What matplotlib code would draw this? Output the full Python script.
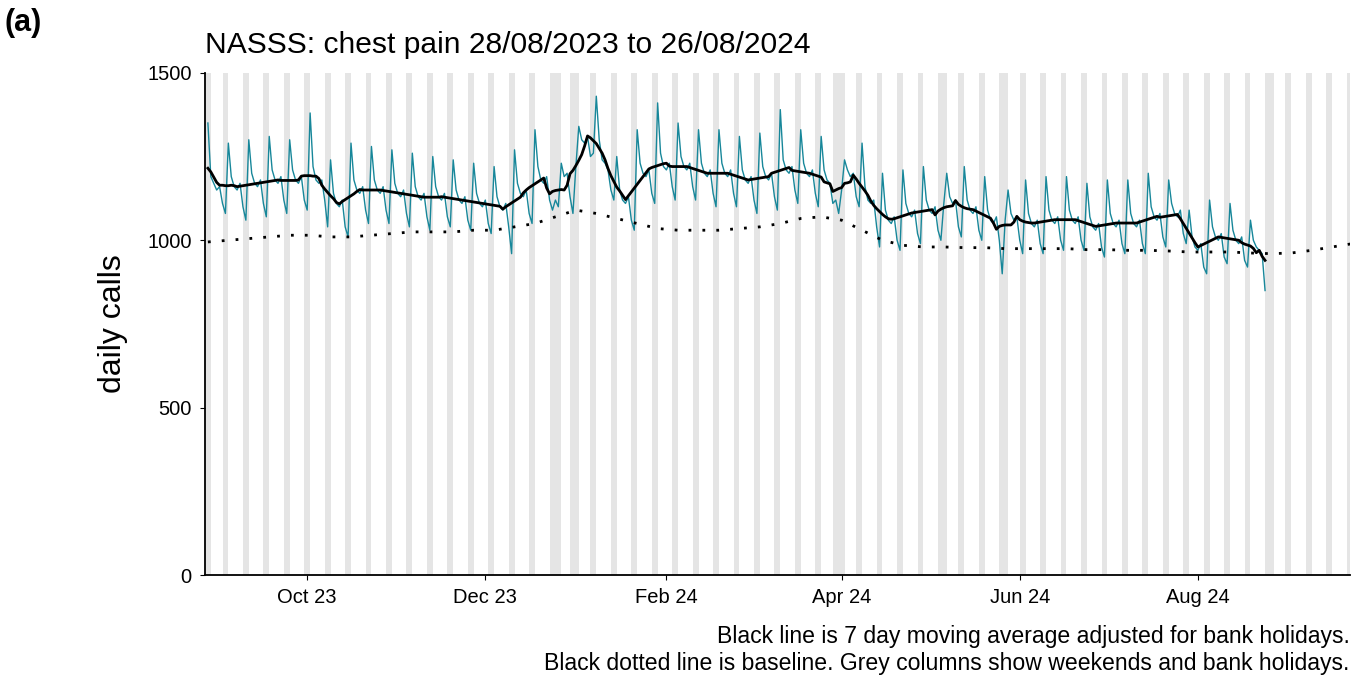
import numpy as np
import pandas as pd
import matplotlib.pyplot as plt
import matplotlib.dates as mdates

plt.rcParams['font.family'] = ['Liberation Sans', 'DejaVu Sans']

# daily calls, one row per week starting Monday 28/08/2023
daily_calls = [
    1350, 1190, 1170, 1150, 1160, 1110, 1080,
    1290, 1190, 1160, 1150, 1170, 1100, 1060,
    1300, 1200, 1170, 1160, 1180, 1110, 1070,
    1310, 1210, 1180, 1170, 1190, 1120, 1080,
    1300, 1210, 1180, 1170, 1190, 1120, 1090,
    1380, 1220, 1180, 1170, 1180, 1120, 1040,
    1240, 1140, 1110, 1100, 1120, 1040, 1010,
    1290, 1180, 1150, 1140, 1160, 1090, 1050,
    1280, 1180, 1150, 1140, 1160, 1090, 1050,
    1270, 1170, 1140, 1130, 1150, 1080, 1040,
    1260, 1160, 1130, 1120, 1140, 1070, 1030,
    1250, 1160, 1130, 1120, 1140, 1070, 1040,
    1240, 1150, 1120, 1110, 1130, 1060, 1030,
    1230, 1140, 1110, 1100, 1120, 1050, 1020,
    1220, 1130, 1100, 1090, 1110, 1040, 960,
    1270, 1170, 1140, 1130, 1150, 1080, 1050,
    1330, 1220, 1180, 1170, 1190, 1120, 1090,
    1120, 1100, 1230, 1190, 1200, 1130, 1080,
    1220, 1340, 1300, 1290, 1310, 1250, 1260,
    1430, 1300, 1240, 1230, 1210, 1150, 1120,
    1250, 1150, 1120, 1110, 1130, 1060, 1030,
    1330, 1230, 1200, 1190, 1210, 1140, 1110,
    1410, 1260, 1220, 1210, 1230, 1160, 1120,
    1350, 1250, 1220, 1210, 1230, 1160, 1120,
    1330, 1230, 1200, 1190, 1210, 1140, 1100,
    1330, 1230, 1200, 1190, 1210, 1140, 1100,
    1310, 1210, 1180, 1170, 1190, 1120, 1080,
    1320, 1220, 1190, 1180, 1200, 1130, 1090,
    1390, 1240, 1210, 1200, 1220, 1150, 1110,
    1330, 1230, 1200, 1190, 1210, 1140, 1100,
    1310, 1210, 1180, 1170, 1110, 1120, 1080,
    1150, 1240, 1210, 1190, 1200, 1130, 1100,
    1290, 1160, 1120, 1110, 1120, 1040, 980,
    1200, 1090, 1060, 1050, 1070, 1000, 970,
    1210, 1110, 1080, 1070, 1090, 1020, 990,
    1220, 1120, 1090, 1080, 1100, 1030, 1000,
    1110, 1200, 1130, 1110, 1120, 1040, 1010,
    1220, 1120, 1090, 1080, 1100, 1030, 1000,
    1190, 1090, 1060, 1050, 1070, 1000, 900,
    1060, 1150, 1080, 1060, 1070, 1000, 960,
    1180, 1080, 1050, 1040, 1060, 990, 960,
    1190, 1090, 1060, 1050, 1070, 1000, 970,
    1190, 1090, 1060, 1050, 1070, 1000, 970,
    1170, 1070, 1040, 1030, 1050, 980, 950,
    1180, 1080, 1050, 1040, 1060, 990, 960,
    1180, 1080, 1050, 1040, 1060, 990, 960,
    1200, 1100, 1070, 1060, 1080, 1010, 980,
    1180, 1110, 1080, 1070, 1090, 1020, 990,
    1090, 1010, 980, 970, 990, 920, 900,
    1120, 1040, 1010, 1000, 1020, 950, 930,
    1110, 1030, 1000, 990, 1010, 940, 920,
    1060, 1000, 980, 970, 960, 850,
]

# weekly baseline from 28/08/2023
baseline = [995, 1000, 1005, 1010, 1015, 1015, 1010, 1010, 1015, 1020, 1025, 1025,
            1025, 1030, 1030, 1040, 1050, 1070, 1090, 1080, 1065, 1050, 1035, 1030,
            1030, 1030, 1035, 1040, 1050, 1065, 1070, 1060, 1030, 1000, 985, 980,
            980, 978, 978, 975, 975, 975, 975, 972, 972, 970, 970, 968, 965, 965,
            965, 962, 960, 962, 970, 980, 990]

bank_holidays = ['2023-08-28', '2023-12-25', '2023-12-26', '2024-01-01', '2024-03-29',
                 '2024-04-01', '2024-05-06', '2024-05-27', '2024-08-26']

start = pd.Timestamp('2023-08-28')
days = pd.date_range(start, periods=len(daily_calls), freq='D')
calls = pd.Series(daily_calls, index=days)
ma = calls.rolling(7, center=True, min_periods=4).mean()
base_dates = pd.date_range(start, periods=len(baseline), freq='7D')

fig = plt.figure(figsize=(13.62, 6.8), dpi=100)
ax = fig.add_axes([0.1505, 0.154, 0.8405, 0.739])

x0, x1 = pd.Timestamp('2023-08-27'), pd.Timestamp('2024-09-22')
bh = pd.to_datetime(bank_holidays)
for d in pd.date_range(x0, x1, freq='D'):
    if d.weekday() >= 5 or d in bh:
        ax.axvspan(d, d + pd.Timedelta(days=1), color='#e5e5e5', lw=0, zorder=0)

ax.plot(days, calls, color='#17879a', lw=1.0, zorder=2)
ax.plot(days, ma, color='black', lw=2.0, zorder=3)
ax.plot(base_dates, baseline, color='black', lw=2.0, ls=(0, (1, 4)), zorder=3)

ax.set_xlim(x0, x1)
ax.set_ylim(0, 1500)
ax.set_yticks([0, 500, 1000, 1500])
ax.xaxis.set_major_locator(mdates.MonthLocator(bymonth=[2, 4, 6, 8, 10, 12]))
ax.xaxis.set_major_formatter(mdates.DateFormatter('%b %y'))
ax.tick_params(labelsize=14.5, colors='black', pad=6)
ax.set_ylabel('daily calls', fontsize=23, labelpad=14)
for s in ['top', 'right']:
    ax.spines[s].set_visible(False)
for s in ['left', 'bottom']:
    ax.spines[s].set_linewidth(1.3)

ax.set_title('NASSS: chest pain 28/08/2023 to 26/08/2024', loc='left', fontsize=21.6, pad=14)
fig.text(0.003, 0.955, '(a)', fontsize=22, fontweight='bold')
fig.text(0.991, 0.055, 'Black line is 7 day moving average adjusted for bank holidays.',
         ha='right', fontsize=16.6)
fig.text(0.991, 0.015, 'Black dotted line is baseline. Grey columns show weekends and bank holidays.',
         ha='right', fontsize=16.6)

fig.savefig('out.png', dpi=100)
